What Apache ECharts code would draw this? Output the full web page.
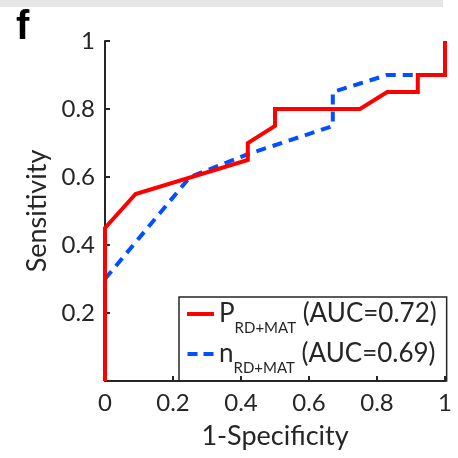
<!DOCTYPE html>
<html>
<head>
<meta charset="utf-8">
<script src="https://cdn.jsdelivr.net/npm/echarts@6/dist/echarts.min.js"></script>
<style>
  html, body { margin: 0; padding: 0; background: #fff; }
  #chart { width: 458px; height: 458px; }
</style>
</head>
<body>
<div id="chart"></div>
<script>
// ROC curve points (1-Specificity, Sensitivity)
const fprP = [0, 0, 0.09, 0.42, 0.42, 0.5, 0.5, 0.75, 0.83, 0.92, 0.92, 1, 1];
const tprP = [0, 0.45, 0.55, 0.65, 0.70, 0.75, 0.80, 0.80, 0.85, 0.85, 0.90, 0.90, 1];
const fprN = [0, 0, 0.25, 0.42, 0.67, 0.67, 0.75, 0.83, 0.92, 1, 1];
const tprN = [0, 0.30, 0.60, 0.667, 0.75, 0.85, 0.875, 0.90, 0.90, 0.90, 1];

const seriesNames = ['P', 'n'];
const aucValues = ['0.72', '0.69'];
const subscript = 'RD+MAT';
const xTicks = [0, 0.2, 0.4, 0.6, 0.8, 1];
const yTicks = [0, 0.2, 0.4, 0.6, 0.8, 1];

const font = 'Lato, "Noto Sans", sans-serif';
const ink = '#262626';
const red = '#ff0000';
const blue = '#0050ff';

const pairs = (xs, ys) => xs.map((x, i) => [x, ys[i]]);

const chart = echarts.init(document.getElementById('chart'), null, { renderer: 'canvas' });

const axisCommon = {
  type: 'value',
  min: 0,
  max: 1,
  interval: 0.2,
  splitLine: { show: false },
  axisLine: { show: true, lineStyle: { color: ink, width: 2 } },
  axisTick: { show: true, inside: true, length: 5, lineStyle: { color: ink, width: 2 } },
  nameLocation: 'middle',
  nameTextStyle: { fontFamily: font, fontSize: 27, color: ink }
};

chart.setOption({
  animation: false,
  backgroundColor: '#fff',
  grid: { left: 105, right: 13, top: 41, bottom: 77, containLabel: false },
  xAxis: Object.assign({}, axisCommon, {
    name: '1-Specificity',
    nameGap: 42,
    axisLabel: {
      fontFamily: font, fontSize: 24, color: ink, margin: 10,
      formatter: v => (xTicks.includes(+v.toFixed(1)) ? String(+v.toFixed(1)) : '')
    }
  }),
  yAxis: Object.assign({}, axisCommon, {
    name: 'Sensitivity',
    nameGap: 52,
    axisLabel: {
      fontFamily: font, fontSize: 24, color: ink, margin: 10,
      formatter: v => (yTicks.includes(+v.toFixed(1)) && v !== 0 ? String(+v.toFixed(1)) : '')
    }
  }),
  legend: {
    orient: 'vertical',
    left: 179,
    top: 297,
    borderColor: ink,
    borderWidth: 1.5,
    padding: [4, 10, 5, 8],
    itemGap: 5,
    itemWidth: 27,
    itemHeight: 4,
    data: [
      { name: seriesNames[0], icon: 'path://M0,0H27V4H0Z', itemStyle: { color: red } },
      { name: seriesNames[1], icon: 'path://M0,0H10V4H0Z M16,0H26V4H16Z', itemStyle: { color: blue } }
    ],
    formatter: name => {
      const i = seriesNames.indexOf(name);
      return '{m|' + name + '}{s|' + subscript + '}{m| (AUC=' + aucValues[i] + ')}';
    },
    textStyle: {
      fontFamily: font,
      color: ink,
      rich: {
        m: { fontFamily: font, fontSize: 26, color: ink, lineHeight: 30 },
        s: { fontFamily: font, fontSize: 15, color: ink, verticalAlign: 'bottom', lineHeight: 15, padding: [0, 0, -7, 0] }
      }
    }
  },
  series: [
    {
      name: seriesNames[0],
      type: 'line',
      data: pairs(fprP, tprP),
      symbol: 'none',
      z: 3,
      lineStyle: { color: red, width: 4, join: 'miter' },
      itemStyle: { color: red }
    },
    {
      name: seriesNames[1],
      type: 'line',
      data: pairs(fprN, tprN),
      symbol: 'none',
      z: 2,
      lineStyle: { color: blue, width: 4, type: [10, 7] },
      itemStyle: { color: blue }
    }
  ],
  graphic: [
    { type: 'rect', left: 0, top: 0, shape: { width: 443, height: 7 }, style: { fill: '#e6e6e6' }, silent: true },
    { type: 'text', left: 16, top: 8, style: { text: 'f', font: 'bold 40px Arial, "Liberation Sans", sans-serif', fill: '#000' } }
  ]
});
</script>
</body>
</html>
